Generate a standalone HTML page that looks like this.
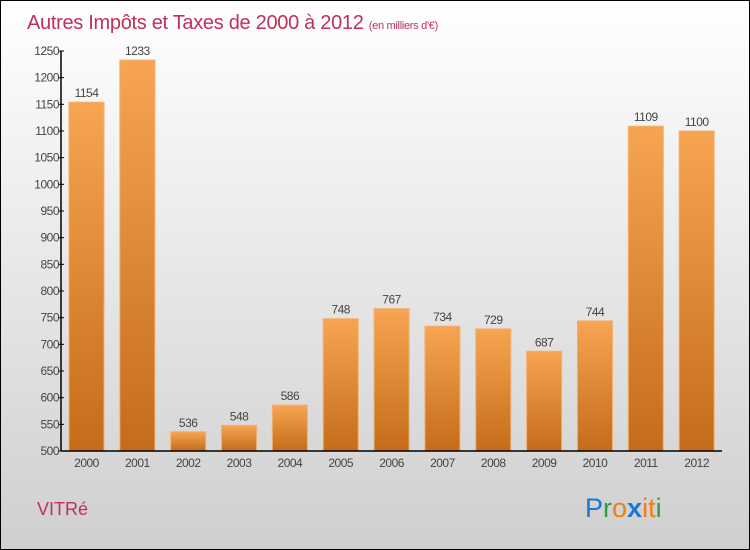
<!DOCTYPE html>
<html><head><meta charset="utf-8"><style>
body{margin:0}
#c{position:relative;width:748px;height:548px;border:1px solid #000;background:linear-gradient(#fff,#cfcfcf);font-family:"Liberation Sans",sans-serif;overflow:hidden}
</style></head><body>
<div id="c">
<svg width="748" height="548" style="position:absolute;left:0;top:0" id="svg">
<defs>
<linearGradient id="bg" x1="0" y1="0" x2="0" y2="1"><stop offset="0" stop-color="#f7a552"/><stop offset="1" stop-color="#c46c19"/></linearGradient>
</defs>
<text x="26" y="28" font-size="20" fill="#c0305a" letter-spacing="-0.3">Autres Impôts et Taxes de 2000 à 2012 <tspan font-size="11">(en milliers d'€)</tspan></text>
<text x="36" y="514" font-size="18" fill="#c0305a">VITRé</text>
<g font-size="27" font-family="'Liberation Sans',sans-serif">
<text x="584" y="516"><tspan fill="#1a78d0">P</tspan><tspan fill="#2aa040">r</tspan><tspan fill="#f07d10">o</tspan><tspan fill="#1a78d0" font-weight="bold">x</tspan><tspan fill="#f07d10">i</tspan><tspan fill="#f07d10">t</tspan><tspan fill="#2aa040">i</tspan></text>
</g>
<g id="plot"></g>
</svg>
</div>
<script>
const years=["2000","2001","2002","2003","2004","2005","2006","2007","2008","2009","2010","2011","2012"];
const values=[1154,1233,536,548,586,748,767,734,729,687,744,1109,1100];
const ticks=[500,550,600,650,700,750,800,850,900,950,1000,1050,1100,1150,1200,1250];
const NS="http://www.w3.org/2000/svg";
const g=document.getElementById('plot');
const x0=60,x1=721,yTop=50,yBot=450,vMin=500,vMax=1250;
const band=(x1-x0)/years.length;
const yS=v=>yBot-(v-vMin)/(vMax-vMin)*(yBot-yTop);
const xS=i=>x0+i*band+8;
function mk(t,a,txt){const e=document.createElementNS(NS,t);for(const k in a)e.setAttribute(k,a[k]);if(txt!==undefined)e.textContent=txt;g.appendChild(e);return e;}
values.forEach((v,i)=>{
 const r=mk('rect',{x:xS(i),y:yS(v),width:35,height:yBot-yS(v),fill:'url(#bg)',stroke:'#f0b070','stroke-width':1});
 
 
 const t=mk('text',{x:xS(i)+17.5,y:yS(v)-5,'text-anchor':'middle','font-size':12,fill:'#444','letter-spacing':'-0.5'},String(v));
 
 
 const xl=mk('text',{x:xS(i)+17.5,y:466,'text-anchor':'middle','font-size':12,fill:'#444','letter-spacing':'-0.5'},years[i]);
 
 
});
ticks.forEach(v=>{
 const tk=mk('line',{x1:x0-3,x2:x0+3,y1:yS(v),y2:yS(v),stroke:'#000'});
 
 
 const tl=mk('text',{x:x0-2,y:yS(v)+4,'text-anchor':'end','font-size':12,fill:'#444','letter-spacing':'-0.5'},String(v));
 
 
});
const ya=mk('line',{x1:x0,x2:x0,y1:yTop,y2:yBot,stroke:'#000','stroke-width':1.5});


const xa=mk('line',{x1:x0,x2:x1,y1:yBot,y2:yBot,stroke:'#000','stroke-width':1.5});


</script>
</body></html>
